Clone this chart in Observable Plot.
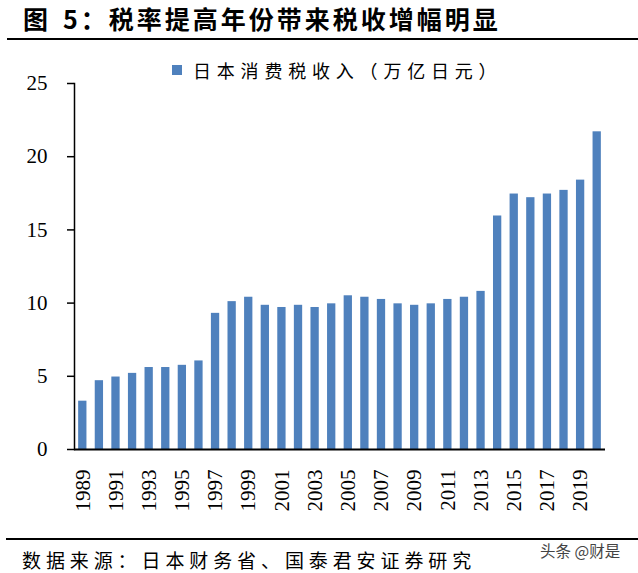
<!DOCTYPE html>
<html>
<head>
<meta charset="utf-8">
<script src="https://cdn.jsdelivr.net/npm/d3@7"></script>
<script src="https://cdn.jsdelivr.net/npm/@observablehq/plot@0.6"></script>
<style>
  html, body { margin: 0; padding: 0; background: #fff; }
  #wrap { position: relative; width: 638px; height: 573px; overflow: hidden; background: #fff; }
  .abs { position: absolute; white-space: nowrap; }
  #title { left: 23px; top: 0px; height: 36px; line-height: 36px; font-family: "Noto Sans CJK SC", sans-serif; font-weight: 700; font-size: 25px; letter-spacing: 3px; color: #000; }
  #title .gap { display: inline-block; width: 12px; }
  #tline { left: 7px; right: 0; top: 38px; height: 2px; background: #000; }
  #legend { left: 172px; top: 57px; height: 26px; line-height: 26px; font-family: "Noto Sans CJK SC", sans-serif; font-size: 18px; letter-spacing: 5.8px; color: #000; display: flex; align-items: center; }
  #legend .sw { width: 10px; height: 10px; background: #4f81bd; margin-right: 11px; }
  #chart { left: 0; top: 45px; }
  #fline { left: 6px; right: 0; top: 538px; height: 2px; background: #000; }
  #source { left: 22px; top: 546px; height: 28px; line-height: 28px; font-family: "Noto Sans CJK SC", sans-serif; font-size: 19px; letter-spacing: 4.9px; color: #000; }
  #wm { left: 540px; top: 539px; height: 23px; line-height: 23px; font-family: "Noto Sans CJK SC", sans-serif; font-size: 15.5px; color: #444; }
</style>
</head>
<body>
<div id="wrap">
  <div id="title" class="abs">图<span class="gap"></span>5：税率提高年份带来税收增幅明显</div>
  <div id="tline" class="abs"></div>
  <div id="legend" class="abs"><div class="sw"></div><span>日本消费税收入（万亿日元）</span></div>
  <div id="chart" class="abs"></div>
  <div id="fline" class="abs"></div>
  <div id="source" class="abs">数据来源：日本财务省、国泰君安证券研究</div>
  <div id="wm" class="abs">头条 @财是</div>
</div>
<script>
const years = ["1989","1990","1991","1992","1993","1994","1995","1996","1997","1998","1999","2000","2001","2002","2003","2004","2005","2006","2007","2008","2009","2010","2011","2012","2013","2014","2015","2016","2017","2018","2019","2020"];
const revenue = [3.3,4.7,4.95,5.2,5.6,5.6,5.75,6.05,9.3,10.1,10.4,9.85,9.7,9.85,9.7,9.95,10.5,10.4,10.25,9.95,9.85,9.95,10.25,10.4,10.8,15.95,17.45,17.2,17.45,17.7,18.4,21.7];
const xTickLabels = ["1989","1991","1993","1995","1997","1999","2001","2003","2005","2007","2009","2011","2013","2015","2017","2019"];
const yTicks = [0,5,10,15,20,25];

const data = years.map((y, i) => ({year: y, value: revenue[i]}));

const chart = Plot.plot({
  width: 638,
  height: 490,
  marginLeft: 74,
  marginRight: 33,
  marginTop: 38,
  marginBottom: 86,
  style: {fontFamily: "'Liberation Serif', 'Times New Roman', serif", fontSize: "21px", color: "#000", background: "transparent"},
  x: {domain: years, paddingInner: 0.5, paddingOuter: 0.25, round: false},
  y: {domain: [0, 25]},
  marks: [
    Plot.barY(data, {x: "year", y: "value", fill: "#4f81bd"}),
    Plot.axisY({ticks: yTicks, tickSize: 7, tickPadding: 20, label: null, stroke: "#000", strokeWidth: 1.5, fontSize: 21}),
    Plot.axisX({ticks: xTickLabels, tickSize: 0, tickPadding: 20, tickRotate: -90, label: null, fontSize: 21}),
    Plot.frame({anchor: "left", stroke: "#000", strokeWidth: 1.5}),
    Plot.ruleY([0], {stroke: "#000", strokeWidth: 2})
  ]
});
document.getElementById("chart").appendChild(chart);
</script>
</body>
</html>
